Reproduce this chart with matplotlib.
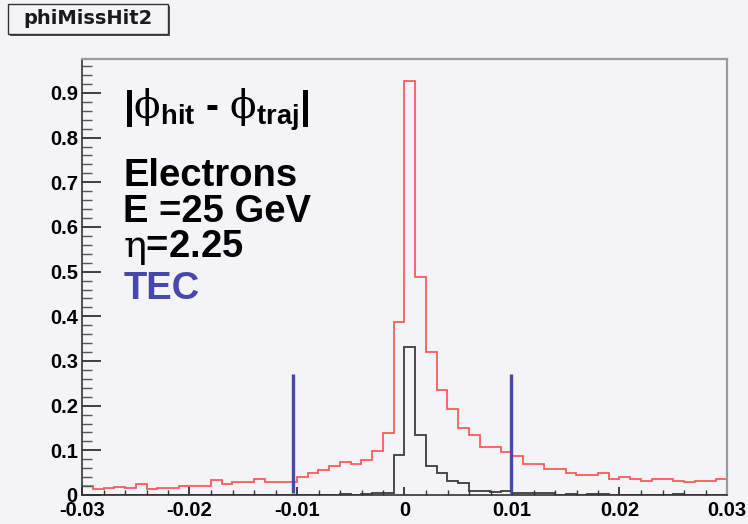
import matplotlib
matplotlib.use("Agg")
import matplotlib.pyplot as plt
import numpy as np
from matplotlib.patches import Rectangle

# histogram bins: 60 bins of 0.001 from -0.03 to 0.03
bin_lo = -0.03
bin_hi = 0.03
n_bins = 60

# all electrons (red)
red_vals = [0.020, 0.013, 0.016, 0.017, 0.016, 0.025, 0.013, 0.016, 0.016, 0.020,
            0.020, 0.020, 0.034, 0.025, 0.028, 0.028, 0.036, 0.028, 0.028, 0.028,
            0.040, 0.049, 0.057, 0.065, 0.074, 0.069, 0.078, 0.098, 0.139, 0.388,
            0.927, 0.489, 0.319, 0.234, 0.192, 0.151, 0.134, 0.107, 0.107, 0.097,
            0.087, 0.069, 0.069, 0.058, 0.058, 0.049, 0.045, 0.045, 0.049, 0.036,
            0.040, 0.036, 0.031, 0.036, 0.036, 0.031, 0.028, 0.031, 0.031, 0.036]

# second histogram (black)
black_vals = [0, 0, 0, 0, 0, 0, 0, 0, 0, 0,
              0, 0, 0, 0, 0, 0, 0, 0, 0, 0,
              0, 0, 0, 0, 0.002, 0.001, 0.002, 0.004, 0.004, 0.090,
              0.332, 0.134, 0.066, 0.049, 0.031, 0.026, 0.008, 0.008, 0.006, 0.008,
              0.004, 0.004, 0.004, 0.004, 0, 0.003, 0, 0.002, 0.002, 0,
              0, 0, 0, 0, 0, 0.003, 0, 0, 0, 0]

# blue cut lines
cut_x = [-0.0104, 0.0099]
cut_top = 0.27

xticks = [-0.03, -0.02, -0.01, 0, 0.01, 0.02, 0.03]
xtick_labels = ["-0.03", "-0.02", "-0.01", "0", "0.01", "0.02", "0.03"]
yticks = [0, 0.1, 0.2, 0.3, 0.4, 0.5, 0.6, 0.7, 0.8, 0.9]
ytick_labels = ["0", "0.1", "0.2", "0.3", "0.4", "0.5", "0.6", "0.7", "0.8", "0.9"]

bg = "#f4f3f7"
plt.rcParams["mathtext.fontset"] = "custom"
plt.rcParams["mathtext.rm"] = "DejaVu Serif"
plt.rcParams["mathtext.bf"] = "Liberation Sans:bold"

fig = plt.figure(figsize=(7.48, 5.24), dpi=100, facecolor=bg)
ax = fig.add_axes([82/748, 29/524, 645/748, 436/524], facecolor=bg)

edges = np.linspace(bin_lo, bin_hi, n_bins + 1)
ax.stairs(red_vals, edges, color="#ff5a5a", lw=1.3)
ax.stairs(black_vals, edges, color="#3c3c3c", lw=1.3)
ax.vlines(cut_x, 0.004, cut_top, color="#4848aa", lw=2.4)

ax.set_xlim(bin_lo, bin_hi)
ax.set_ylim(0, 0.976)

ax.set_xticks(xticks)
ax.set_xticklabels(xtick_labels)
ax.set_xticks(np.arange(-0.03, 0.0301, 0.002), minor=True)
ax.set_yticks(yticks)
ax.set_yticklabels(ytick_labels)
ax.set_yticks(np.arange(0, 0.97, 0.02), minor=True)

ax.tick_params(axis="x", which="major", direction="in", length=6, width=1.2,
               color="#222222", pad=4, labelsize=14.5)
ax.tick_params(axis="x", which="minor", direction="in", length=3.5, width=1,
               color="#333333")
ax.tick_params(axis="y", which="major", direction="in", length=14, width=1.2,
               color="#222222", pad=3, labelsize=14.5)
ax.tick_params(axis="y", which="minor", direction="in", length=7, width=1,
               color="#555555")
for lab in ax.get_xticklabels() + ax.get_yticklabels():
    lab.set_fontweight("bold")
    lab.set_family("Liberation Sans")

for side in ["top", "right"]:
    ax.spines[side].set_color("#9a9a9a")
    ax.spines[side].set_linewidth(1.6)
for side in ["left", "bottom"]:
    ax.spines[side].set_color("#333333")
    ax.spines[side].set_linewidth(1.2)

# annotations
tx = 0.064
ax.text(tx, 0.883, r"|$\mathrm{\phi}_{\mathbf{hit}}$ - $\mathrm{\phi}_{\mathbf{traj}}$|",
        transform=ax.transAxes, fontsize=28, fontweight="bold",
        family="Liberation Sans", va="center", ha="left")
ax.text(tx, 0.708, "Electrons", transform=ax.transAxes, fontsize=27.5,
        fontweight="bold", family="Liberation Sans", va="baseline")
ax.text(tx, 0.626, "E =25 GeV", transform=ax.transAxes, fontsize=27.5,
        fontweight="bold", family="Liberation Sans", va="baseline")
ax.text(tx, 0.545, r"$\mathrm{\eta}$=2.25", transform=ax.transAxes, fontsize=27.5,
        fontweight="bold", family="Liberation Sans", va="baseline")
ax.text(tx, 0.450, "TEC", transform=ax.transAxes, fontsize=27.5,
        fontweight="bold", family="Liberation Sans", va="baseline", color="#4848aa")

# title box
fig.patches.append(Rectangle((10/748, 1 - 36/524), 160/748, 30/524,
                             transform=fig.transFigure, facecolor="#505050",
                             edgecolor="none"))
fig.patches.append(Rectangle((8/748, 1 - 34/524), 160/748, 30/524,
                             transform=fig.transFigure, facecolor=bg,
                             edgecolor="#333333", lw=1))
fig.text(88/748, 1 - 19/524, "phiMissHit2", fontsize=14, fontweight="bold",
         family="DejaVu Sans", ha="center", va="center", color="#1a1a1a")

fig.savefig("out.png", dpi=100, facecolor=bg)
